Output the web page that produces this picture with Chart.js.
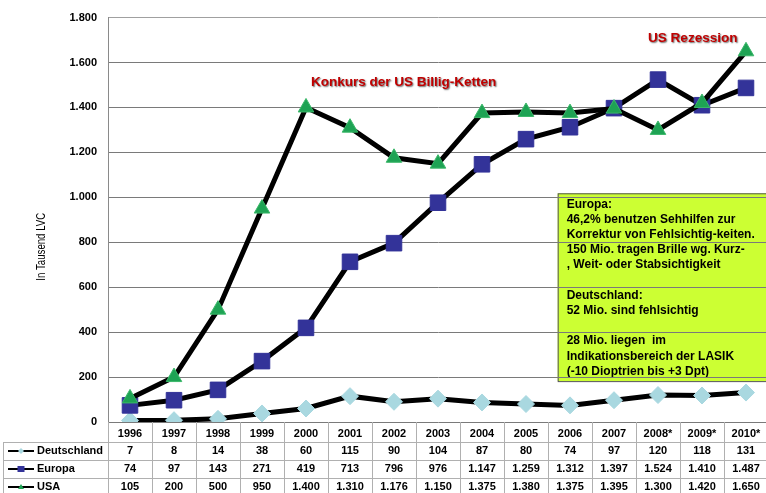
<!DOCTYPE html>
<html>
<head>
<meta charset="utf-8">
<script src="https://cdn.jsdelivr.net/npm/chart.js@4.4.0/dist/chart.umd.min.js"></script>
<style>
html, body { margin: 0; padding: 0; overflow: hidden; background: #fff; }
#wrap { width: 780px; height: 493px; }
</style>
</head>
<body>
<div id="wrap"><canvas id="chart"></canvas></div>
<script>

var years       = ["1996", "1997", "1998", "1999", "2000", "2001", "2002", "2003", "2004", "2005", "2006", "2007", "2008*", "2009*", "2010*"];
var deutschland = [7, 8, 14, 38, 60, 115, 90, 104, 87, 80, 74, 97, 120, 118, 131];
var europa      = [74, 97, 143, 271, 419, 713, 796, 976, 1147, 1259, 1312, 1397, 1524, 1410, 1487];
var usa         = [105, 200, 500, 950, 1400, 1310, 1176, 1150, 1375, 1380, 1375, 1395, 1300, 1420, 1650];
var yMax  = 1800;
var yStep = 200;

var boxLines = [
    "Europa:",
    "46,2% benutzen Sehhilfen zur",
    "Korrektur von Fehlsichtig-keiten.",
    "150 Mio. tragen Brille wg. Kurz-",
    ", Weit- oder Stabsichtigkeit",
    "",
    "Deutschland:",
    "52 Mio. sind fehlsichtig",
    "",
    "28 Mio. liegen  im",
    "Indikationsbereich der LASIK",
    "(-10 Dioptrien bis +3 Dpt)"
];

var FONT = "Arial, 'Liberation Sans', sans-serif";

function fmt(v) {
    return String(v).replace(/\B(?=(\d{3})+(?!\d))/g, ".");
}

/**********************************************************************
* green info box, drawn under the grid
**********************************************************************/
var infoBox = {
    id: 'infoBox',
    beforeDraw: function(chart) {
        var ctx = chart.ctx;
        var xs = chart.scales.x, ys = chart.scales.y;
        var left = xs.getPixelForValue(9.72);
        var top = ys.getPixelForValue(1018);
        var bottom = ys.getPixelForValue(182);
        ctx.save();
        ctx.fillStyle = '#CCFF33';
        ctx.fillRect(left, top, chart.width - left, bottom - top);
        ctx.strokeStyle = '#555';
        ctx.lineWidth = 1;
        ctx.strokeRect(left + 0.5, top + 0.5, chart.width, bottom - top);
        ctx.fillStyle = '#000';
        ctx.font = 'bold 12px ' + FONT;
        ctx.textBaseline = 'middle';
        ctx.textAlign = 'left';
        for (var i = 0; i < boxLines.length; i++) {
            ctx.fillText(boxLines[i], left + 9, top + 11 + i * 15.2, 192);
        }
        ctx.restore();
    }
};

/**********************************************************************
* red notes + axis title
**********************************************************************/
var notes = {
    id: 'notes',
    afterDatasetsDraw: function(chart) {
        var ctx = chart.ctx;
        var xs = chart.scales.x, ys = chart.scales.y;
        ctx.save();
        ctx.font = 'bold 13.5px ' + FONT;
        ctx.textAlign = 'center';
        ctx.textBaseline = 'middle';
        ctx.fillStyle = '#C00000';
        ctx.shadowColor = 'rgba(0,0,0,0.6)';
        ctx.shadowOffsetX = 1;
        ctx.shadowOffsetY = 1;
        ctx.shadowBlur = 1.5;
        ctx.fillText("Konkurs der US Billig-Ketten", xs.getPixelForValue(6.22), ys.getPixelForValue(1511), 188);
        ctx.fillText("US Rezession", xs.getPixelForValue(12.79), ys.getPixelForValue(1707), 92);
        ctx.restore();

        ctx.save();
        ctx.translate(42, ys.getPixelForValue(780));
        ctx.rotate(-Math.PI / 2);
        ctx.font = '12px ' + FONT;
        ctx.fillStyle = '#000';
        ctx.textAlign = 'center';
        ctx.textBaseline = 'middle';
        ctx.fillText("In Tausend LVC", 0, 0, 68);
        ctx.restore();
    }
};

/**********************************************************************
* data table under the x axis
**********************************************************************/
function drawKey(ctx, x, y, style, color) {
    ctx.strokeStyle = '#000';
    ctx.lineWidth = 2;
    ctx.beginPath();
    ctx.moveTo(x, y);
    ctx.lineTo(x + 26, y);
    ctx.stroke();
    ctx.fillStyle = color;
    var cx = x + 13;
    ctx.beginPath();
    if (style == 'rectRot') {
        ctx.moveTo(cx, y - 3); ctx.lineTo(cx + 3, y); ctx.lineTo(cx, y + 3); ctx.lineTo(cx - 3, y);
    } else if (style == 'rect') {
        ctx.rect(cx - 3.5, y - 3, 7, 6);
    } else {
        ctx.moveTo(cx, y - 3); ctx.lineTo(cx + 3, y + 2); ctx.lineTo(cx - 3, y + 2);
    }
    ctx.closePath();
    ctx.fill();
}

var dataTable = {
    id: 'dataTable',
    afterDraw: function(chart) {
        var ctx = chart.ctx;
        var xs = chart.scales.x;
        var area = chart.chartArea;
        var half = (xs.getPixelForValue(1) - xs.getPixelForValue(0)) / 2;
        var top = area.bottom + 20;
        var rowH = 18;
        var rows = [
            { name: "Deutschland", data: deutschland, style: 'rectRot', color: '#A9D8E0' },
            { name: "Europa",      data: europa,      style: 'rect',    color: '#333399' },
            { name: "USA",         data: usa,         style: 'triangle', color: '#1EA354' }
        ];
        ctx.save();
        ctx.strokeStyle = '#B0B0B0';
        ctx.lineWidth = 1;
        ctx.beginPath();
        for (var i = 0; i <= years.length; i++) {
            var bx = Math.round(xs.getPixelForValue(i) - half) + 0.5;
            ctx.moveTo(bx, area.bottom);
            ctx.lineTo(bx, top + rowH * 3);
        }
        ctx.moveTo(3.5, top);
        ctx.lineTo(3.5, top + rowH * 3);
        for (var r = 0; r <= 3; r++) {
            var ly = Math.round(top + r * rowH) + 0.5;
            ctx.moveTo(3, ly);
            ctx.lineTo(chart.width, ly);
        }
        ctx.stroke();

        ctx.font = 'bold 11px ' + FONT;
        ctx.textBaseline = 'middle';
        for (var r = 0; r < rows.length; r++) {
            var cy = top + r * rowH + rowH / 2;
            drawKey(ctx, 8, cy, rows[r].style, rows[r].color);
            ctx.fillStyle = '#000';
            ctx.textAlign = 'left';
            ctx.fillText(rows[r].name, 37, cy);
            ctx.textAlign = 'center';
            for (var i = 0; i < years.length; i++) {
                ctx.fillText(fmt(rows[r].data[i]), xs.getPixelForValue(i), cy);
            }
        }
        ctx.restore();
    }
};

var ctx = document.getElementById("chart").getContext("2d");
var myChart = new Chart(ctx, {
    type: 'line',
    data: {
        labels: years,
        datasets: [
            {
                label: 'Deutschland',
                data: deutschland,
                borderColor: '#000',
                borderWidth: 5,
                pointStyle: 'rectRot',
                pointRadius: 8.5,
                pointBackgroundColor: '#A9D8E0',
                pointBorderColor: '#A9D8E0',
                pointBorderWidth: 1,
                order: 3
            },
            {
                label: 'Europa',
                data: europa,
                borderColor: '#000',
                borderWidth: 5,
                pointStyle: 'rect',
                pointRadius: 11,
                pointBackgroundColor: '#333399',
                pointBorderColor: '#333399',
                pointBorderWidth: 1,
                order: 2
            },
            {
                label: 'USA',
                data: usa,
                borderColor: '#000',
                borderWidth: 5,
                pointStyle: 'triangle',
                pointRadius: 9,
                pointBackgroundColor: '#1EA354',
                pointBorderColor: '#3CB86A',
                pointBorderWidth: 1,
                order: 1
            }
        ]
    },
    options: {
        responsive: true,
        maintainAspectRatio: false,
        animation: false,
        layout: { padding: { top: 17, right: 6, bottom: 0, left: 0 } },
        plugins: {
            legend: { display: false },
            tooltip: { enabled: false }
        },
        scales: {
            x: {
                offset: true,
                grid: { display: false, drawTicks: false },
                border: { display: false },
                ticks: {
                    color: '#000',
                    font: { family: FONT, size: 11, weight: 'bold' },
                    padding: 5,
                    maxRotation: 0,
                    autoSkip: false
                },
                afterFit: function(scale) { scale.height = 71; }
            },
            y: {
                min: 0,
                max: yMax,
                grid: {
                    color: function(c) { return c.tick && c.tick.value == yMax ? '#A0A0A0' : '#7A7A7A'; },
                    lineWidth: 1,
                    drawTicks: false
                },
                border: { color: '#8A8A8A', width: 1 },
                ticks: {
                    stepSize: yStep,
                    color: '#000',
                    font: { family: FONT, size: 11, weight: 'bold' },
                    padding: 11,
                    callback: function(v) { return fmt(v); }
                },
                afterFit: function(scale) { scale.width = 108; }
            }
        }
    },
    plugins: [infoBox, notes, dataTable]
});

</script>
</body>
</html>
